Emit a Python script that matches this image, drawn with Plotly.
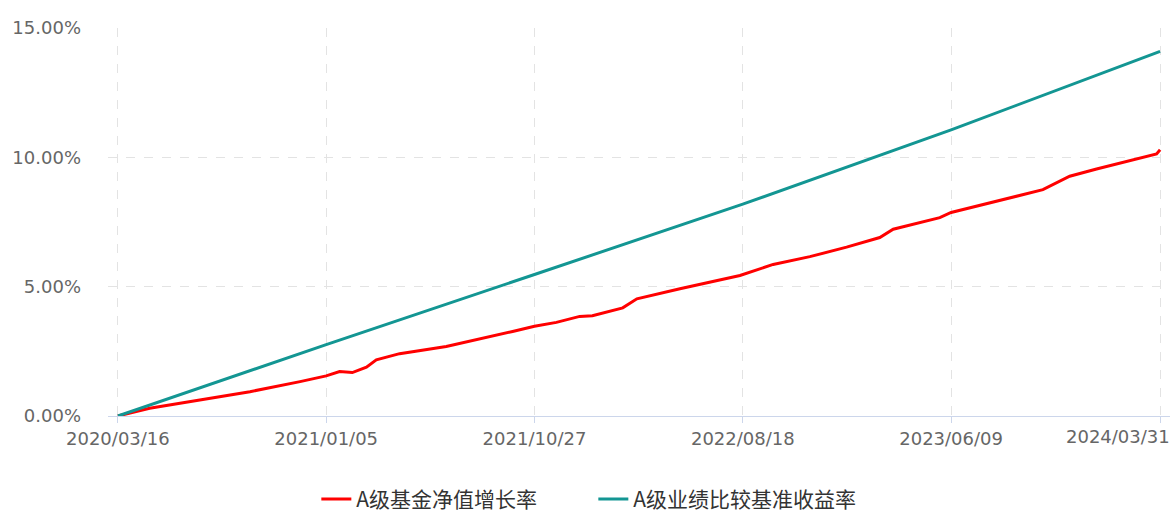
import plotly.graph_objects as go
import pandas as pd

# A级基金净值增长率 (%)
nav_dates = ["2020-03-16", "2020-04-30", "2020-07-10", "2020-09-19", "2020-11-29",
             "2021-01-05", "2021-01-24", "2021-02-11", "2021-03-03", "2021-03-17",
             "2021-04-19", "2021-06-24", "2021-09-26", "2021-10-27", "2021-11-27",
             "2021-12-30", "2022-01-17", "2022-03-01", "2022-03-21", "2022-05-21",
             "2022-08-14", "2022-09-30", "2022-11-21", "2023-01-12", "2023-02-28",
             "2023-03-19", "2023-05-24", "2023-06-09", "2023-10-17", "2023-11-24",
             "2024-01-01", "2024-03-26", "2024-03-31"]
nav_values = [0.00, 0.30, 0.62, 0.94, 1.33,
              1.55, 1.72, 1.68, 1.89, 2.17,
              2.41, 2.69, 3.27, 3.47, 3.62,
              3.85, 3.88, 4.18, 4.53, 4.92,
              5.43, 5.86, 6.16, 6.53, 6.90,
              7.22, 7.67, 7.87, 8.75, 9.27,
              9.55, 10.13, 10.29]

# A级业绩比较基准收益率 (%)
bench_dates = ["2020-03-16", "2021-01-05", "2021-10-27", "2022-08-18", "2023-06-09", "2024-03-31"]
bench_values = [0.00, 2.76, 5.47, 8.19, 11.06, 14.10]

tick_dates = ["2020-03-16", "2021-01-05", "2021-10-27", "2022-08-18", "2023-06-09", "2024-03-31"]
tick_labels = ["2020/03/16", "2021/01/05", "2021/10/27", "2022/08/18", "2023/06/09", "2024/03/31"]
y_ticks = [0, 5, 10, 15]
y_labels = ["0.00%", "5.00%", "10.00%", "15.00%"]

fig = go.Figure()
fig.add_trace(go.Scatter(x=nav_dates, y=nav_values, mode="lines", name="A级基金净值增长率",
                         line=dict(color="#ff0000", width=3)))
fig.add_trace(go.Scatter(x=bench_dates, y=bench_values, mode="lines", name="A级业绩比较基准收益率",
                         line=dict(color="#139693", width=3)))

x0 = pd.Timestamp(tick_dates[0]) - pd.Timedelta(days=14)
x1 = pd.Timestamp(tick_dates[-1]) + pd.Timedelta(days=14)

tick_font = dict(family="DejaVu Sans", size=18, color="#666666")

# last x label is shifted left so it stays inside the chart (as in the reference)
shown_text = tick_labels[:-1] + [""]
fig.add_annotation(x=tick_dates[-1], xref="x", y=0, yref="paper",
                   text=tick_labels[-1], showarrow=False, xanchor="right", yanchor="middle",
                   xshift=12, yshift=-20, font=tick_font)

fig.update_layout(
    width=1173, height=515,
    margin=dict(l=108, r=3, t=28, b=99, autoexpand=False),
    plot_bgcolor="white", paper_bgcolor="white",
    font=dict(family="DejaVu Sans", color="#666666"),
    showlegend=True,
    legend=dict(orientation="h", x=0.457, xanchor="center", y=-0.215, yanchor="middle",
                font=dict(family="Noto Sans CJK SC", size=21, color="#333333"),
                itemwidth=30, bgcolor="rgba(0,0,0,0)", entrywidth=232),
    xaxis=dict(type="date", range=[x0, x1], tickvals=tick_dates, ticktext=shown_text,
               automargin=False,
               showgrid=True, gridcolor="#e3e3e3", griddash="dash", gridwidth=1,
               showline=True, linecolor="#ccd6eb", linewidth=1,
               ticks="outside", ticklen=6, tickcolor="#ccd6eb",
               tickfont=tick_font, zeroline=False),
    yaxis=dict(range=[0, 15], tickvals=y_ticks, ticktext=y_labels, automargin=False,
               showgrid=True, gridcolor="#e3e3e3", griddash="dash", gridwidth=1,
               showline=False, zeroline=False, ticks="", ticklabelstandoff=26,
               tickfont=tick_font),
)

fig.write_html("out.html", config={"displayModeBar": False},
               post_script="document.body.style.margin='0';document.body.style.overflow='hidden';")
